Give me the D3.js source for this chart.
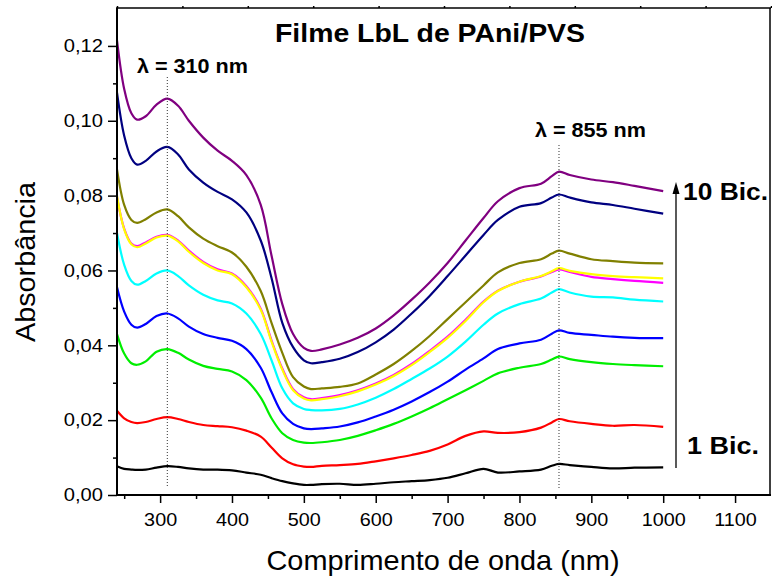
<!DOCTYPE html>
<html>
<head>
<meta charset="utf-8">
<script src="https://cdn.jsdelivr.net/npm/d3@7"></script>
<style>
  html, body { margin: 0; padding: 0; background: #fff; }
  svg { display: block; font-family: "Liberation Sans", Arial, sans-serif; }
</style>
</head>
<body>
<svg id="chart" width="772" height="579"></svg>
<script>
// Wavelengths (nm) at which each spectrum is sampled
const wavelengths = [240, 250, 260, 268, 280, 295, 310, 325, 340, 360, 380, 400, 420, 440, 455, 470, 485, 500,
  510, 525, 550, 575, 600, 625, 650, 675, 700, 725, 750, 770, 800, 830, 845, 855, 870, 900, 930, 960, 1000];

// Absorbance spectra after each bilayer deposition
const bic1 = [.0077, .0070, .0068, .0067, .0068, .0073, .0077, .0075, .0071, .0068, .0068, .0066, .0060, .0054, .0045, .0037, .0031, .0027,
  .0027, .0029, .0030, .0027, .0030, .0034, .0037, .0040, .0046, .0058, .0070, .0060, .0063, .0068, .0078, .0083, .0080, .0075, .0071, .0073, .0074];
const bic2 = [.0225, .0205, .0195, .0192, .0195, .0203, .0208, .0203, .0195, .0187, .0184, .0181, .0172, .0156, .0127, .0098, .0082, .0076,
  .0075, .0078, .0080, .0083, .0090, .0098, .0107, .0118, .0135, .0158, .0170, .0166, .0168, .0180, .0194, .0203, .0197, .0190, .0185, .0187, .0182];
const bic3 = [.0430, .0378, .0352, .0348, .0357, .0383, .0390, .0380, .0362, .0345, .0337, .0330, .0307, .0260, .0205, .0165, .0147, .0140,
  .0139, .0141, .0147, .0158, .0173, .0190, .0210, .0232, .0256, .0280, .0305, .0325, .0340, .0350, .0362, .0370, .0363, .0355, .0350, .0347, .0344];
const bic4 = [.0555, .0490, .0455, .0447, .0457, .0478, .0485, .0472, .0450, .0430, .0420, .0412, .0390, .0340, .0275, .0218, .0190, .0178,
  .0176, .0178, .0183, .0194, .0210, .0228, .0250, .0275, .0303, .0335, .0365, .0390, .0405, .0415, .0431, .0440, .0433, .0428, .0423, .0420, .0419];
const bic5 = [.0700, .0615, .0572, .0562, .0572, .0592, .0600, .0585, .0560, .0535, .0520, .0512, .0485, .0430, .0360, .0285, .0245, .0230,
  .0227, .0226, .0230, .0242, .0260, .0283, .0310, .0338, .0370, .0410, .0455, .0485, .0510, .0525, .0541, .0550, .0541, .0530, .0528, .0522, .0517];
const bic6 = [.0795, .0712, .0672, .0665, .0675, .0690, .0695, .0680, .0653, .0623, .0603, .0592, .0558, .0498, .0413, .0338, .0283, .0261,
  .0256, .0259, .0267, .0280, .0298, .0321, .0350, .0385, .0423, .0468, .0517, .0546, .0570, .0584, .0596, .0603, .0596, .0583, .0577, .0572, .0567];
const bic7 = [.0800, .0710, .0670, .0662, .0672, .0688, .0693, .0678, .0650, .0620, .0600, .0590, .0555, .0495, .0410, .0335, .0280, .0258,
  .0253, .0256, .0264, .0277, .0295, .0318, .0347, .0382, .0420, .0465, .0515, .0545, .0570, .0585, .0598, .0606, .0599, .0590, .0585, .0582, .0579];
const bic8 = [.0870, .0775, .0735, .0727, .0737, .0755, .0763, .0745, .0715, .0685, .0665, .0648, .0610, .0545, .0460, .0380, .0315, .0290,
  .0283, .0285, .0289, .0298, .0322, .0350, .0385, .0425, .0470, .0515, .0560, .0595, .0620, .0630, .0645, .0653, .0645, .0630, .0625, .0621, .0619];
const bic9 = [.1075, .0960, .0900, .0883, .0893, .0918, .0930, .0910, .0870, .0835, .0810, .0790, .0755, .0680, .0580, .0460, .0395, .0360,
  .0352, .0355, .0364, .0382, .0408, .0442, .0485, .0532, .0585, .0640, .0695, .0735, .0770, .0780, .0795, .0803, .0795, .0782, .0775, .0765, .0752];
const bic10 = [.1215, .1085, .1020, .1003, .1012, .1043, .1059, .1040, .1000, .0955, .0920, .0893, .0855, .0775, .0640, .0510, .0430, .0393,
  .0385, .0389, .0402, .0420, .0445, .0480, .0522, .0568, .0620, .0680, .0740, .0785, .0820, .0832, .0852, .0864, .0855, .0843, .0836, .0826, .0812];

const seriesNames = ["1 Bic.", "2 Bic.", "3 Bic.", "4 Bic.", "5 Bic.", "6 Bic.", "7 Bic.", "8 Bic.", "9 Bic.", "10 Bic."];
const seriesValues = [bic1, bic2, bic3, bic4, bic5, bic6, bic7, bic8, bic9, bic10];
const seriesColors = ["#000000", "#ff0000", "#00ee00", "#0000ff", "#00ffff", "#ff00ff", "#ffff00", "#808000", "#000080", "#800080"];

const xTicks = [300, 400, 500, 600, 700, 800, 900, 1000, 1100];
const xMinorTicks = [250, 350, 450, 550, 650, 750, 850, 950, 1050];
const yTicks = [0, 0.02, 0.04, 0.06, 0.08, 0.10, 0.12];
const yMinorTicks = [0.01, 0.03, 0.05, 0.07, 0.09, 0.11];
const peakMarks = [310, 855];

const title = "Filme LbL de PAni/PVS";
const xTitle = "Comprimento de onda (nm)";
const yTitle = "Absorbância";

const svg = d3.select("#chart");
const plotL = 117, plotR = 770, plotT = 8, plotB = 495;

const x = d3.scaleLinear().domain([240, 1150]).range([plotL, plotR + 1]);
const y = d3.scaleLinear().domain([0, 0.13]).range([plotB, plotT + 0.5]);

const fmt = v => d3.format(".2f")(v).replace(".", ",");

// Spectra
const line = d3.line()
  .x(d => x(d[0]))
  .y(d => y(d[1]))
  .curve(d3.curveCatmullRom.alpha(0.5));

const plot = svg.append("g");
seriesValues.forEach((vals, i) => {
  plot.append("path")
    .datum(wavelengths.map((w, j) => [w, vals[j]]))
    .attr("fill", "none")
    .attr("stroke", seriesColors[i])
    .attr("stroke-width", 2.2)
    .attr("stroke-linejoin", "round")
    .attr("d", line);
});

// Dotted peak markers
const peakTop = { 310: 77, 855: 145 };
peakMarks.forEach(w => {
  svg.append("line")
    .attr("x1", x(w)).attr("x2", x(w))
    .attr("y1", peakTop[w]).attr("y2", 488)
    .attr("stroke", "#333").attr("stroke-width", 1)
    .attr("stroke-dasharray", "1,2");
});

// Axes
const xAxis = svg.append("g").attr("transform", `translate(0,${plotB})`)
  .call(d3.axisBottom(x).tickValues(xTicks).tickSize(8).tickPadding(10).tickFormat(d3.format("d")));
const xMinor = svg.append("g").attr("transform", `translate(0,${plotB})`)
  .call(d3.axisBottom(x).tickValues(xMinorTicks).tickSize(4).tickFormat(""));
const yAxis = svg.append("g").attr("transform", `translate(${plotL},0)`)
  .call(d3.axisLeft(y).tickValues(yTicks).tickSize(9).tickPadding(5).tickFormat(fmt));
const yMinor = svg.append("g").attr("transform", `translate(${plotL},0)`)
  .call(d3.axisLeft(y).tickValues(yMinorTicks).tickSize(4).tickFormat(""));
const topScale = d3.scaleLinear().domain([0, 10]).range([plotL, plotR + 1]);
const topAxis = svg.append("g").attr("transform", `translate(0,${plotT})`)
  .call(d3.axisTop(topScale).ticks(10).tickSize(2).tickFormat(""));

[xAxis, xMinor, yAxis, yMinor, topAxis].forEach(g => {
  g.select(".domain").remove();
  g.selectAll(".tick line").attr("stroke", "#000").attr("stroke-width", 1.5);
});
xAxis.selectAll("text")
  .attr("font-size", 18).attr("fill", "#000")
  .attr("font-family", "Liberation Sans, Arial, sans-serif")
  .attr("transform", "scale(1.1,1)");
yAxis.selectAll("text")
  .attr("font-size", 18).attr("fill", "#000")
  .attr("font-family", "Liberation Sans, Arial, sans-serif")
  .attr("x", -14 / 1.12)
  .attr("transform", "scale(1.12,1)");

// Frame
svg.append("line").attr("x1", plotL).attr("x2", plotR + 1).attr("y1", plotT).attr("y2", plotT)
  .attr("stroke", "#000").attr("stroke-width", 1.5);
svg.append("line").attr("x1", plotR).attr("x2", plotR).attr("y1", plotT).attr("y2", plotB)
  .attr("stroke", "#000").attr("stroke-width", 1.5);
svg.append("line").attr("x1", plotL).attr("x2", plotL).attr("y1", plotT - 0.75).attr("y2", plotB + 1)
  .attr("stroke", "#000").attr("stroke-width", 2);
svg.append("line").attr("x1", plotL - 1).attr("x2", plotR + 1).attr("y1", plotB).attr("y2", plotB)
  .attr("stroke", "#000").attr("stroke-width", 2);

// Text helper: fixed drawn width with stretched glyphs
function label(txt, px, py, size, weight, width, anchor, rotate) {
  const t = svg.append("text")
    .attr("font-size", size)
    .attr("font-weight", weight)
    .attr("fill", "#000")
    .attr("text-anchor", anchor || "start")
    .attr("textLength", width)
    .attr("lengthAdjust", "spacingAndGlyphs")
    .text(txt);
  if (rotate) t.attr("transform", `translate(${px},${py}) rotate(${rotate})`);
  else t.attr("x", px).attr("y", py);
  return t;
}

label(title, 430, 42, 25, "bold", 310, "middle");
label("λ = 310 nm", 137, 73, 21, "bold", 111);
label("λ = 855 nm", 535, 137, 21, "bold", 111);
label(xTitle, 443, 570, 28, "normal", 353, "middle");
label(yTitle, 35, 262, 28, "normal", 160, "middle", -90);

// Growth arrow from first to last bilayer
const arrowX = 676;
svg.append("line").attr("x1", arrowX).attr("x2", arrowX).attr("y1", 468).attr("y2", 190)
  .attr("stroke", "#000").attr("stroke-width", 1.3);
svg.append("path")
  .attr("d", `M${arrowX},182 L${arrowX - 3.5},194 L${arrowX + 3.5},194 Z`)
  .attr("fill", "#000");
label(seriesNames[9], 683, 200, 24, "bold", 85);
label(seriesNames[0], 687, 454, 24, "bold", 72);
</script>
</body>
</html>
